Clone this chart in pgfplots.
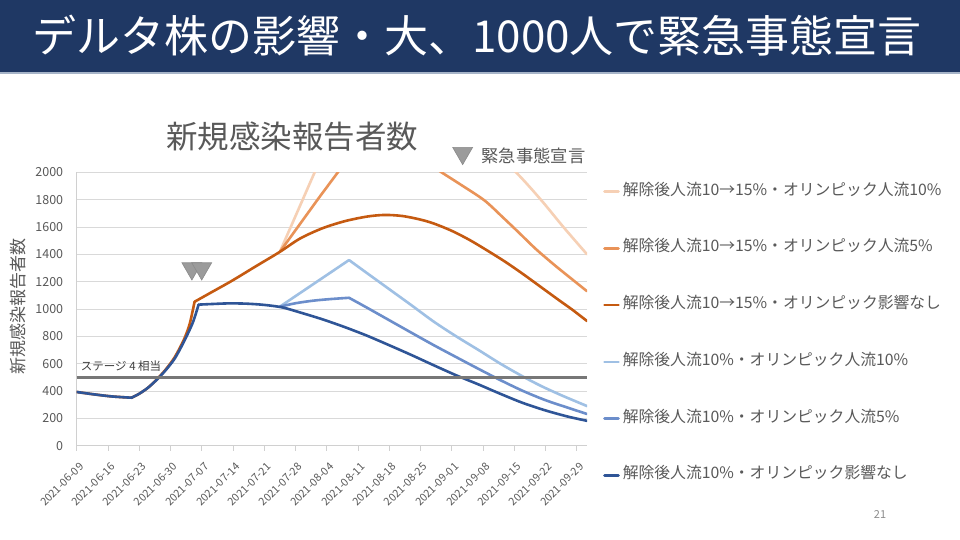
\documentclass[border=0pt]{standalone}
\usepackage{fontspec}
\setmainfont{Noto Sans CJK JP}
\usepackage{pgfplots}
\pgfplotsset{compat=1.18}
\definecolor{banner}{HTML}{1F3864}
\definecolor{bannerline}{HTML}{A6B4C8}
\definecolor{txtgray}{HTML}{595959}
\definecolor{gridgray}{HTML}{D9D9D9}
\definecolor{axgray}{HTML}{D0D0D0}
\definecolor{lorange}{HTML}{F6D0B5}
\definecolor{morange}{HTML}{E99358}
\definecolor{dorange}{HTML}{C55A11}
\definecolor{lblue}{HTML}{9FC0E4}
\definecolor{mblue}{HTML}{6C8ECB}
\definecolor{dblue}{HTML}{2F5597}
\definecolor{stage}{HTML}{777777}
\definecolor{mkfill}{HTML}{9B9B9B}
\definecolor{mkdraw}{HTML}{8A8A8A}
\begin{document}
\begin{tikzpicture}[x=1pt,y=1pt]
\useasboundingbox (0,0) rectangle (960,540);
\fill[white] (0,0) rectangle (960,540);
\fill[banner] (0,468) rectangle (960,540);
\draw[bannerline, line width=1.5pt] (0,467.2) -- (960,467.2);
\node[text=white, font=\fontsize{44pt}{50pt}\selectfont] at (477,504) {デルタ株の影響・大、1000人で緊急事態宣言};
\node[text=txtgray, font=\fontsize{31.5pt}{36pt}\selectfont] at (292,403) {新規感染報告者数};
\node[text=txtgray, rotate=90, font=\fontsize{17pt}{20pt}\selectfont] at (18,233) {新規感染報告者数};
\node[text=gray!90, font=\fontsize{11pt}{13pt}\selectfont] at (880,25) {21};

\begin{axis}[
  at={(76.7pt,94.3pt)}, anchor=south west,
  scale only axis, width=510.3pt, height=273.4pt,
  xmin=0, xmax=114.3, ymin=0, ymax=2000,
  enlargelimits=false,
  axis x line*=bottom, axis y line*=left,
  axis line style={-, draw=axgray, line width=0.8pt},
  tick align=outside,
  xtick={0,7,...,112},
  xticklabels={2021-06-09,2021-06-16,2021-06-23,2021-06-30,2021-07-07,2021-07-14,2021-07-21,2021-07-28,2021-08-04,2021-08-11,2021-08-18,2021-08-25,2021-09-01,2021-09-08,2021-09-15,2021-09-22,2021-09-29},
  xtick style={draw=axgray, line width=0.8pt},
  major tick length=5pt,
  ytick={0,200,...,2000},
  ytick style={draw=none},
  ymajorgrids, grid style={draw=gridgray, line width=0.8pt},
  scaled y ticks=false,
  /pgf/number format/.cd, 1000 sep={}, assume math mode=true,
  /pgfplots/.cd,
  yticklabel style={text=txtgray, font=\fontsize{12.5pt}{14pt}\selectfont, xshift=-5pt},
  xticklabel style={text=txtgray, font=\fontsize{10.8pt}{12pt}\selectfont, inner sep=0pt, xshift=5pt, yshift=-14pt, rotate=45, anchor=east},
  legend style={at={(1,1)}, anchor=north west, xshift=16pt, yshift=-11.7pt, draw=none, fill=none, inner sep=0pt,
    row sep=41.7pt, column sep=3pt,
    font=\fontsize{15.8pt}{18pt}\selectfont, text=txtgray,
    nodes={inner sep=0pt, text height=11pt, text depth=4pt}},
  legend cell align=left,
  legend image code/.code={\draw[#1] (0pt,0pt) -- (14pt,0pt);},
  every axis plot/.append style={line width=2.6pt, line join=round, line cap=round},
]
% light orange
\addplot[lorange] coordinates {(45.5,1418) (53.3,2000) (61,2550)};
\addlegendentry{解除後人流10→15\%・オリンピック人流10\%}
\addplot[lorange, smooth, forget plot] coordinates {(61,2550) (70,2650) (80,2500) (90,2260) (98.4,2000) (104,1798) (109,1600) (114.3,1400)};
% mid orange
\addplot[morange] coordinates {(45.5,1418) (54.4,1820) (58.5,2000) (61,2110)};
\addlegendentry{解除後人流10→15\%・オリンピック人流5\%}
\addplot[morange, smooth, forget plot] coordinates {(61,2110) (66,2170) (72,2150) (78,2080) (81.7,2000) (86,1910) (91.3,1795) (95.4,1672) (99,1560) (102.9,1437) (107,1322) (110.4,1232) (114.3,1130)};
% dark orange
\addplot[dorange, smooth] coordinates {(0,393) (4,375) (8,360) (12.3,351)};
\addlegendentry{解除後人流10→15\%・オリンピック影響なし}
\addplot[dorange, smooth, forget plot] coordinates {(12.3,351) (14,380) (16,425) (18,487) (20,560) (22,650) (24,775) (25.3,890) (26.4,1053)};
\addplot[dorange, smooth, forget plot] coordinates {(26.4,1053) (30,1119) (34.8,1207) (40,1310) (45.5,1418) (50,1515) (55,1590) (60,1642) (65,1676) (69,1688) (73,1680) (77,1654) (80,1625) (84,1572) (88,1505) (92,1427) (96,1345) (100,1255) (104,1160) (108,1065) (111,995) (114.3,912)};
% light blue
\addplot[lblue] coordinates {(45.5,1017) (61,1358)};
\addlegendentry{解除後人流10\%・オリンピック人流10\%}
\addplot[lblue, smooth, forget plot] coordinates {(61,1358) (65,1263) (70,1145) (75,1027) (80,907) (85,800) (90,700) (95,598) (100,505) (104,437) (108,377) (111,335) (114.3,290)};
% mid blue
\addplot[mblue, smooth] coordinates {(45.5,1017) (49,1042) (53,1061) (57,1073) (61,1082)};
\addlegendentry{解除後人流10\%・オリンピック人流5\%}
\addplot[mblue, smooth, forget plot] coordinates {(61,1082) (65,1010) (70,918) (75,826) (80,735) (85,648) (90,562) (95,478) (100,400) (105,333) (110,278) (114.3,232)};
% dark blue
\addplot[dblue, smooth] coordinates {(0,393) (4,375) (8,360) (12.3,351)};
\addlegendentry{解除後人流10\%・オリンピック影響なし}
\addplot[dblue, smooth, forget plot] coordinates {(12.3,351) (14,380) (16,425) (18,485) (20,555) (22,640) (24,760) (26,900) (27.3,1032)};
\addplot[dblue, smooth, forget plot] coordinates {(27.3,1032) (30,1036) (34,1041) (38,1039) (42,1030) (46,1012) (50,975) (55,925) (60,868) (65,805) (70,735) (75,663) (80,588) (85,515) (90,448) (95,378) (100,312) (105,258) (110,213) (114.3,182)};
% stage 4 line
\addplot[stage, line width=3pt, line cap=butt, forget plot] coordinates {(0,500) (114.3,500)};
\node[anchor=west, text=black!75, font=\fontsize{11.5pt}{13pt}\selectfont, inner sep=0pt] at (axis cs:0.9,585) {ステージ 4 相当};
\end{axis}

\begin{axis}[
  at={(76.7pt,94.3pt)}, anchor=south west,
  scale only axis, width=510.3pt, height=273.4pt,
  xmin=0, xmax=114.3, ymin=0, ymax=2000,
  hide axis,
  legend style={at={(0.7364,1.0596)}, anchor=west, draw=none, fill=none, inner sep=0pt, column sep=9pt,
    font=\fontsize{17.3pt}{20pt}\selectfont, text=txtgray,
    nodes={inner sep=0pt}},
  legend image code/.code={\draw[#1] plot[only marks] coordinates {(11pt,3pt)};},
]
\addplot[only marks, mark=triangle*, mark size=11.5pt, mark options={rotate=180, fill=mkfill, draw=mkdraw, line width=0.6pt}] coordinates {(25.8,1296) (28,1296)};
\addlegendentry{緊急事態宣言}
\end{axis}
\end{tikzpicture}
\end{document}
